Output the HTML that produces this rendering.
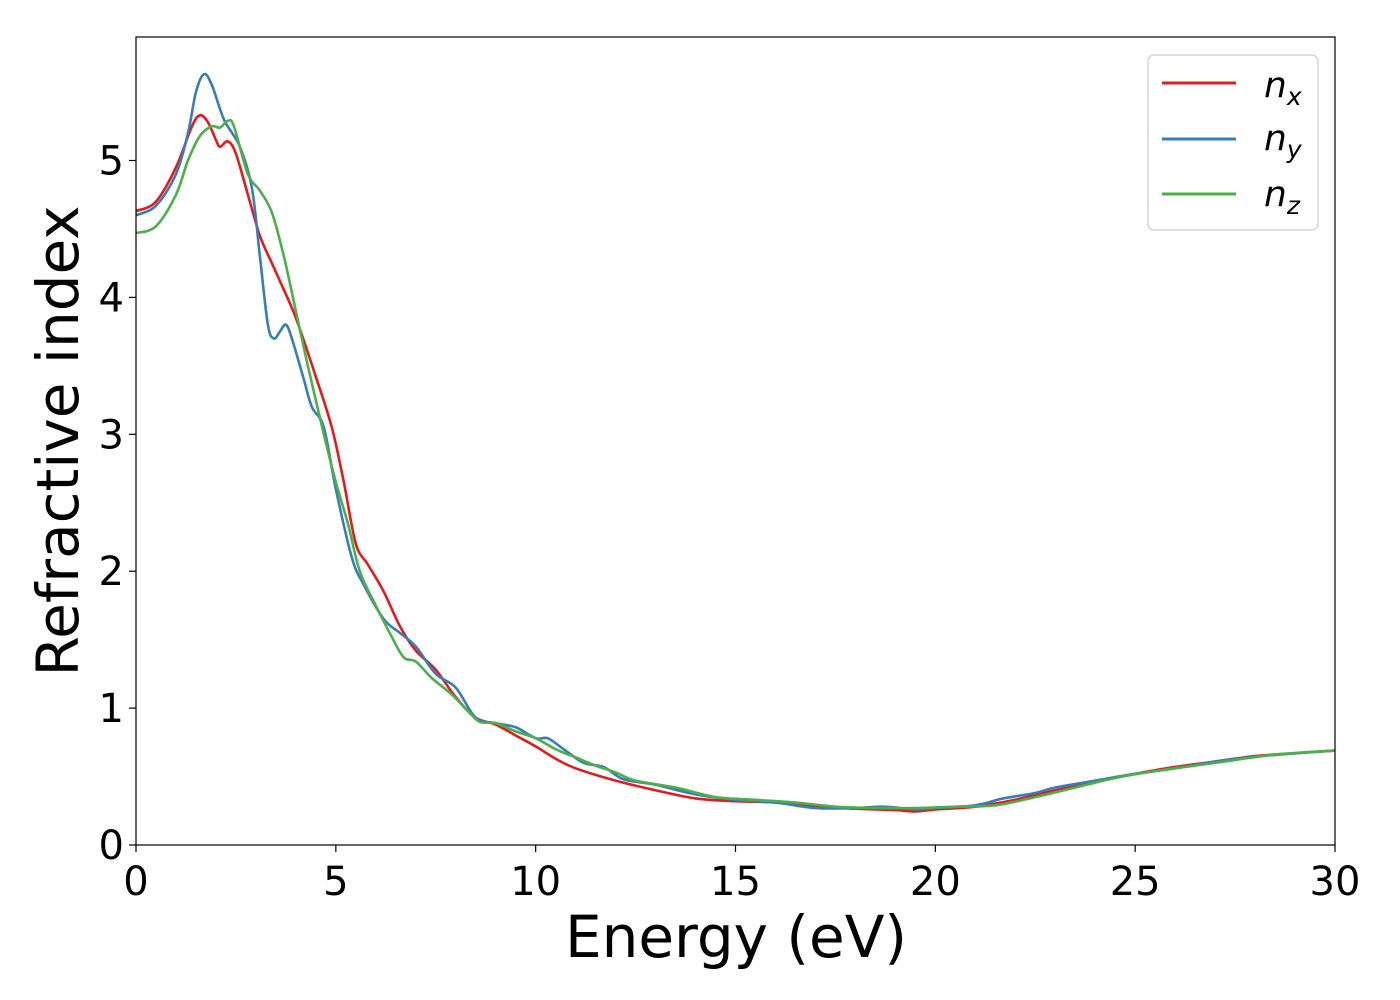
<!DOCTYPE html>
<html><head><meta charset="utf-8"><style>
html,body{margin:0;padding:0;background:#fff;}
svg{display:block;font-family:"DejaVu Sans","Liberation Sans",sans-serif;}
</style></head><body>
<svg id="chart" width="1400" height="1000">
<rect x="0" y="0" width="1400" height="1000" fill="#fff"/>
<g id="plot"></g>
<rect x="136" y="37" width="1199" height="808" fill="none" stroke="#000" stroke-width="1.2"/>
<g id="xticks"></g>
<g id="yticks"></g>
<text x="736" y="957" font-size="58" text-anchor="middle">Energy (eV)</text>
<text transform="translate(78,441) rotate(-90)" font-size="58" text-anchor="middle">Refractive index</text>
<g>
<rect x="1148" y="55" width="170" height="175" rx="6" fill="#fff" stroke="#ccc" stroke-width="1.2"/>
<line x1="1162" y1="83" x2="1236" y2="83" stroke="#e41a1c" stroke-width="3"/>
<text x="1264" y="97" font-size="36" font-style="italic">n<tspan font-size="25" dy="8">x</tspan></text>
<line x1="1162" y1="139" x2="1236" y2="139" stroke="#377eb8" stroke-width="3"/>
<text x="1264" y="150" font-size="36" font-style="italic">n<tspan font-size="25" dy="8">y</tspan></text>
<line x1="1162" y1="194" x2="1236" y2="194" stroke="#4daf4a" stroke-width="3"/>
<text x="1264" y="206" font-size="36" font-style="italic">n<tspan font-size="25" dy="8">z</tspan></text>
</g>
</svg>
<script>
const xTicks=[0,5,10,15,20,25,30];
const yTicks=[0,1,2,3,4,5];
const nxE=[0,0.5,1,1.4,1.6,1.8,2.0,2.1,2.3,2.5,2.8,3.1,3.4,3.6,4.0,4.5,4.9,5.2,5.5,5.8,6.2,6.6,7.0,7.5,8.0,8.5,9,9.5,10,10.5,11,12,13,14,15,16,17,18,19,19.5,20,21,22,23,24,25,26,27,28,29,30];
const nxV=[4.63,4.7,4.95,5.25,5.33,5.28,5.15,5.10,5.14,5.05,4.75,4.45,4.25,4.12,3.85,3.42,3.05,2.65,2.2,2.05,1.85,1.6,1.42,1.28,1.08,0.93,0.88,0.8,0.72,0.63,0.56,0.47,0.4,0.34,0.32,0.31,0.28,0.265,0.255,0.245,0.26,0.28,0.33,0.4,0.46,0.52,0.57,0.61,0.65,0.67,0.69];
const nyE=[0,0.5,1,1.3,1.5,1.7,1.9,2.2,2.6,2.9,3.1,3.3,3.45,3.6,3.75,3.9,4.2,4.4,4.7,5.0,5.4,5.7,6.2,6.6,7.0,7.5,8.0,8.5,9,9.5,10,10.3,10.7,11.2,11.7,12.2,13,14,15,16,17,18,18.7,19.5,20,21,21.7,22.5,23,24,25,26,27,28,29,30];
const nyV=[4.6,4.67,4.9,5.2,5.5,5.63,5.55,5.3,5.1,4.8,4.3,3.8,3.7,3.75,3.8,3.7,3.4,3.2,3.05,2.6,2.1,1.9,1.65,1.55,1.45,1.25,1.15,0.93,0.89,0.86,0.78,0.78,0.7,0.6,0.57,0.48,0.44,0.37,0.33,0.31,0.27,0.27,0.28,0.26,0.27,0.29,0.34,0.38,0.42,0.47,0.52,0.56,0.61,0.645,0.67,0.69];
const nzE=[0,0.5,1,1.3,1.6,1.9,2.1,2.3,2.45,2.8,3.1,3.4,3.7,4.0,4.3,4.7,5.0,5.3,5.6,6.0,6.4,6.7,7.0,7.4,7.9,8.3,8.6,9,9.5,10,10.5,11,11.5,12,12.5,13.5,14.5,15.5,16.5,17.5,18.5,19.5,20.5,21.5,22.5,23.5,24.5,25.5,27,28.5,30];
const nzV=[4.47,4.52,4.75,5.0,5.18,5.25,5.24,5.29,5.25,4.9,4.78,4.62,4.3,3.9,3.5,3.0,2.65,2.35,2.0,1.75,1.52,1.37,1.34,1.22,1.1,0.98,0.9,0.89,0.83,0.78,0.7,0.64,0.58,0.53,0.47,0.42,0.35,0.33,0.31,0.28,0.27,0.27,0.28,0.29,0.35,0.42,0.49,0.54,0.6,0.66,0.69];
const NS="http://www.w3.org/2000/svg";
const X0=136,X1=1335,Y0=845,YU=136.9;
function xs(e){return X0+(X1-X0)*e/30;}
function ys(v){return Y0-v*YU;}
function mk(t,a,p){const el=document.createElementNS(NS,t);for(const k in a)el.setAttribute(k,a[k]);p.appendChild(el);return el;}
const xg=document.getElementById('xticks'),yg=document.getElementById('yticks'),pg=document.getElementById('plot');
xTicks.forEach(t=>{
 const l=mk('line',{x1:xs(t),x2:xs(t),y1:Y0,y2:Y0+7,stroke:'#000','stroke-width':1.2},xg);
 
 
 const tx=mk('text',{x:xs(t),y:Y0+50,'font-size':40,'text-anchor':'middle'},xg);
 tx.textContent=t;
 
 
});
yTicks.forEach(t=>{
 const l=mk('line',{x1:X0-7,x2:X0,y1:ys(t),y2:ys(t),stroke:'#000','stroke-width':1.2},yg);
 
 
 const tx=mk('text',{x:X0-12,y:ys(t)+14,'font-size':40,'text-anchor':'end'},yg);
 tx.textContent=t;
 
 
});
function path(E,V){
 const p=E.map((e,i)=>[xs(e),ys(V[i])]);
 let d='M'+p[0][0]+','+p[0][1];
 for(let i=0;i<p.length-1;i++){
  const a=p[Math.max(i-1,0)],b=p[i],c=p[i+1],n=p[Math.min(i+2,p.length-1)];
  const c1=[b[0]+(c[0]-a[0])/6,b[1]+(c[1]-a[1])/6],c2=[c[0]-(n[0]-b[0])/6,c[1]-(n[1]-b[1])/6];
  d+=' C'+c1[0]+','+c1[1]+' '+c2[0]+','+c2[1]+' '+c[0]+','+c[1];
 }
 return d;
}
[[nxE,nxV,'#e41a1c','line-nx'],[nyE,nyV,'#377eb8','line-ny'],[nzE,nzV,'#4daf4a','line-nz']].forEach(s=>{
 const el=mk('path',{d:path(s[0],s[1]),fill:'none',stroke:s[2],'stroke-width':2.6},pg);
 
 
});
</script>
</body></html>
